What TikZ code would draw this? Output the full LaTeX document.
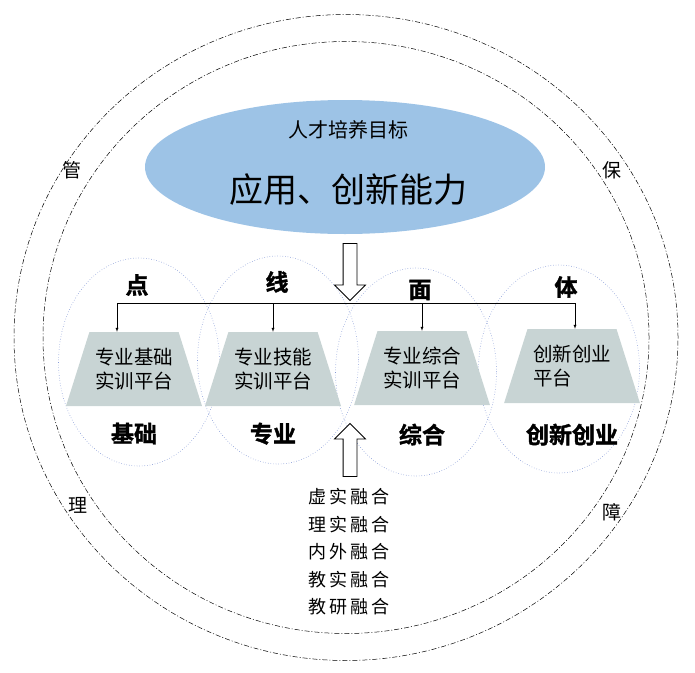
\documentclass[tikz,border=0pt]{standalone}
\usepackage{fontspec}
\setmainfont{Noto Sans CJK SC}
\newfontfamily\heavyfont[FakeBold=1.5]{Noto Sans CJK SC Bold}
\usetikzlibrary{shapes.geometric,shapes.arrows,positioning}
\definecolor{goalblue}{RGB}{157,195,230}
\definecolor{platfill}{RGB}{200,212,212}
\definecolor{zoneline}{RGB}{135,155,215}
\begin{document}
\begin{tikzpicture}[x=1pt,y=-1pt,
	ring/.style={draw,ellipse,inner sep=0pt,line width=.5pt,dash pattern=on 5pt off 2pt on 1pt off 2pt},
	zone/.style={draw=zoneline,dotted,line width=.6pt,ellipse,inner sep=0pt,minimum width=161pt,minimum height=208pt},
	plat/.style={trapezium,trapezium stretches=true,trapezium angle=64,minimum width=136pt,minimum height=74pt,fill=platfill,inner sep=0pt,align=center,font=\fontsize{19.5}{24}\selectfont},
	tag/.style={font=\fontsize{23}{23}\heavyfont},
	hollow/.style={draw,fill=white,single arrow,line width=.8pt,inner sep=6.5pt,single arrow head extend=8.5pt,single arrow head indent=0pt},
	side/.style={font=\fontsize{19}{19}\selectfont},
	com/.style={>=latex}]
	\useasboundingbox (0,0) rectangle (695,672);

	\node[ring,minimum width=664pt,minimum height=646pt] (outer) at (346,337.5) {};
	\node[ring,minimum width=606pt,minimum height=592pt] (inner) at (346,337.5) {};

	\node[side] (g1) at (72,170) {管};
	\node[side] (g2) at (78,505) {理};
	\node[side] (g3) at (612,170) {保};
	\node[side] (g4) at (612,512) {障};

	\node[ellipse,fill=goalblue,minimum width=400pt,minimum height=134pt] (goal) at (345,167) {};
	\node[font=\fontsize{20}{20}\selectfont] (aim) at (348,130) {人才培养目标};
	\node[font=\fontsize{34}{34}\selectfont] (cap) at (348,190) {应用、创新能力};

	\node[zone] (z1) at (139,362) {};
	\node[zone] (z2) at (278,360) {};
	\node[zone] (z3) at (416,372) {};
	\node[zone] (z4) at (559,369) {};

	\node[plat] (t1) at (134,369) {专业基础\\实训平台};
	\node[plat] (t2) at (273,369) {专业技能\\实训平台};
	\node[plat] (t3) at (422,368) {专业综合\\实训平台};
	\node[plat] (t4) at (572,366) {创新创业\\平台\hspace*{2em}};

	\node[tag] (d1) at (137,285) {点};
	\node[tag] (d2) at (277,282) {线};
	\node[tag] (d3) at (420,290) {面};
	\node[tag] (d4) at (566,287) {体};

	\node[tag] (k1) [below=13pt of t1] {基础};
	\node[tag] (k2) [below=13pt of t2] {专业};
	\node[tag] (k3) [below=15pt of t3] {综合};
	\node[tag] (k4) [below=17pt of t4] {创新创业};

	\coordinate (b1) at (117,303);
	\coordinate (b2) at (273,303);
	\coordinate (b3) at (422,303);
	\coordinate (b4) at (575,303);
	\draw[line width=.9pt] (b1) -- (b4);
	\draw[->,com] (b1) -- (b1 |- t1.north);
	\draw[->,com] (b2) -- (b2 |- t2.north);
	\draw[->,com] (b3) -- (b3 |- t3.north);
	\draw[->,com] (b4) -- (b4 |- t4.north);

	\node[hollow,shape border rotate=270,minimum height=57pt] (down) at (350,268.5) {};
	\node[hollow,shape border rotate=90,minimum height=53pt] (up) at (350,453.5) {};

	\node[align=center,font=\fontsize{18}{27.5}\selectfont] (ways) at (349,552) {虚\,实\,融\,合\\理\,实\,融\,合\\内\,外\,融\,合\\教\,实\,融\,合\\教\,研\,融\,合};
\end{tikzpicture}
\end{document}
